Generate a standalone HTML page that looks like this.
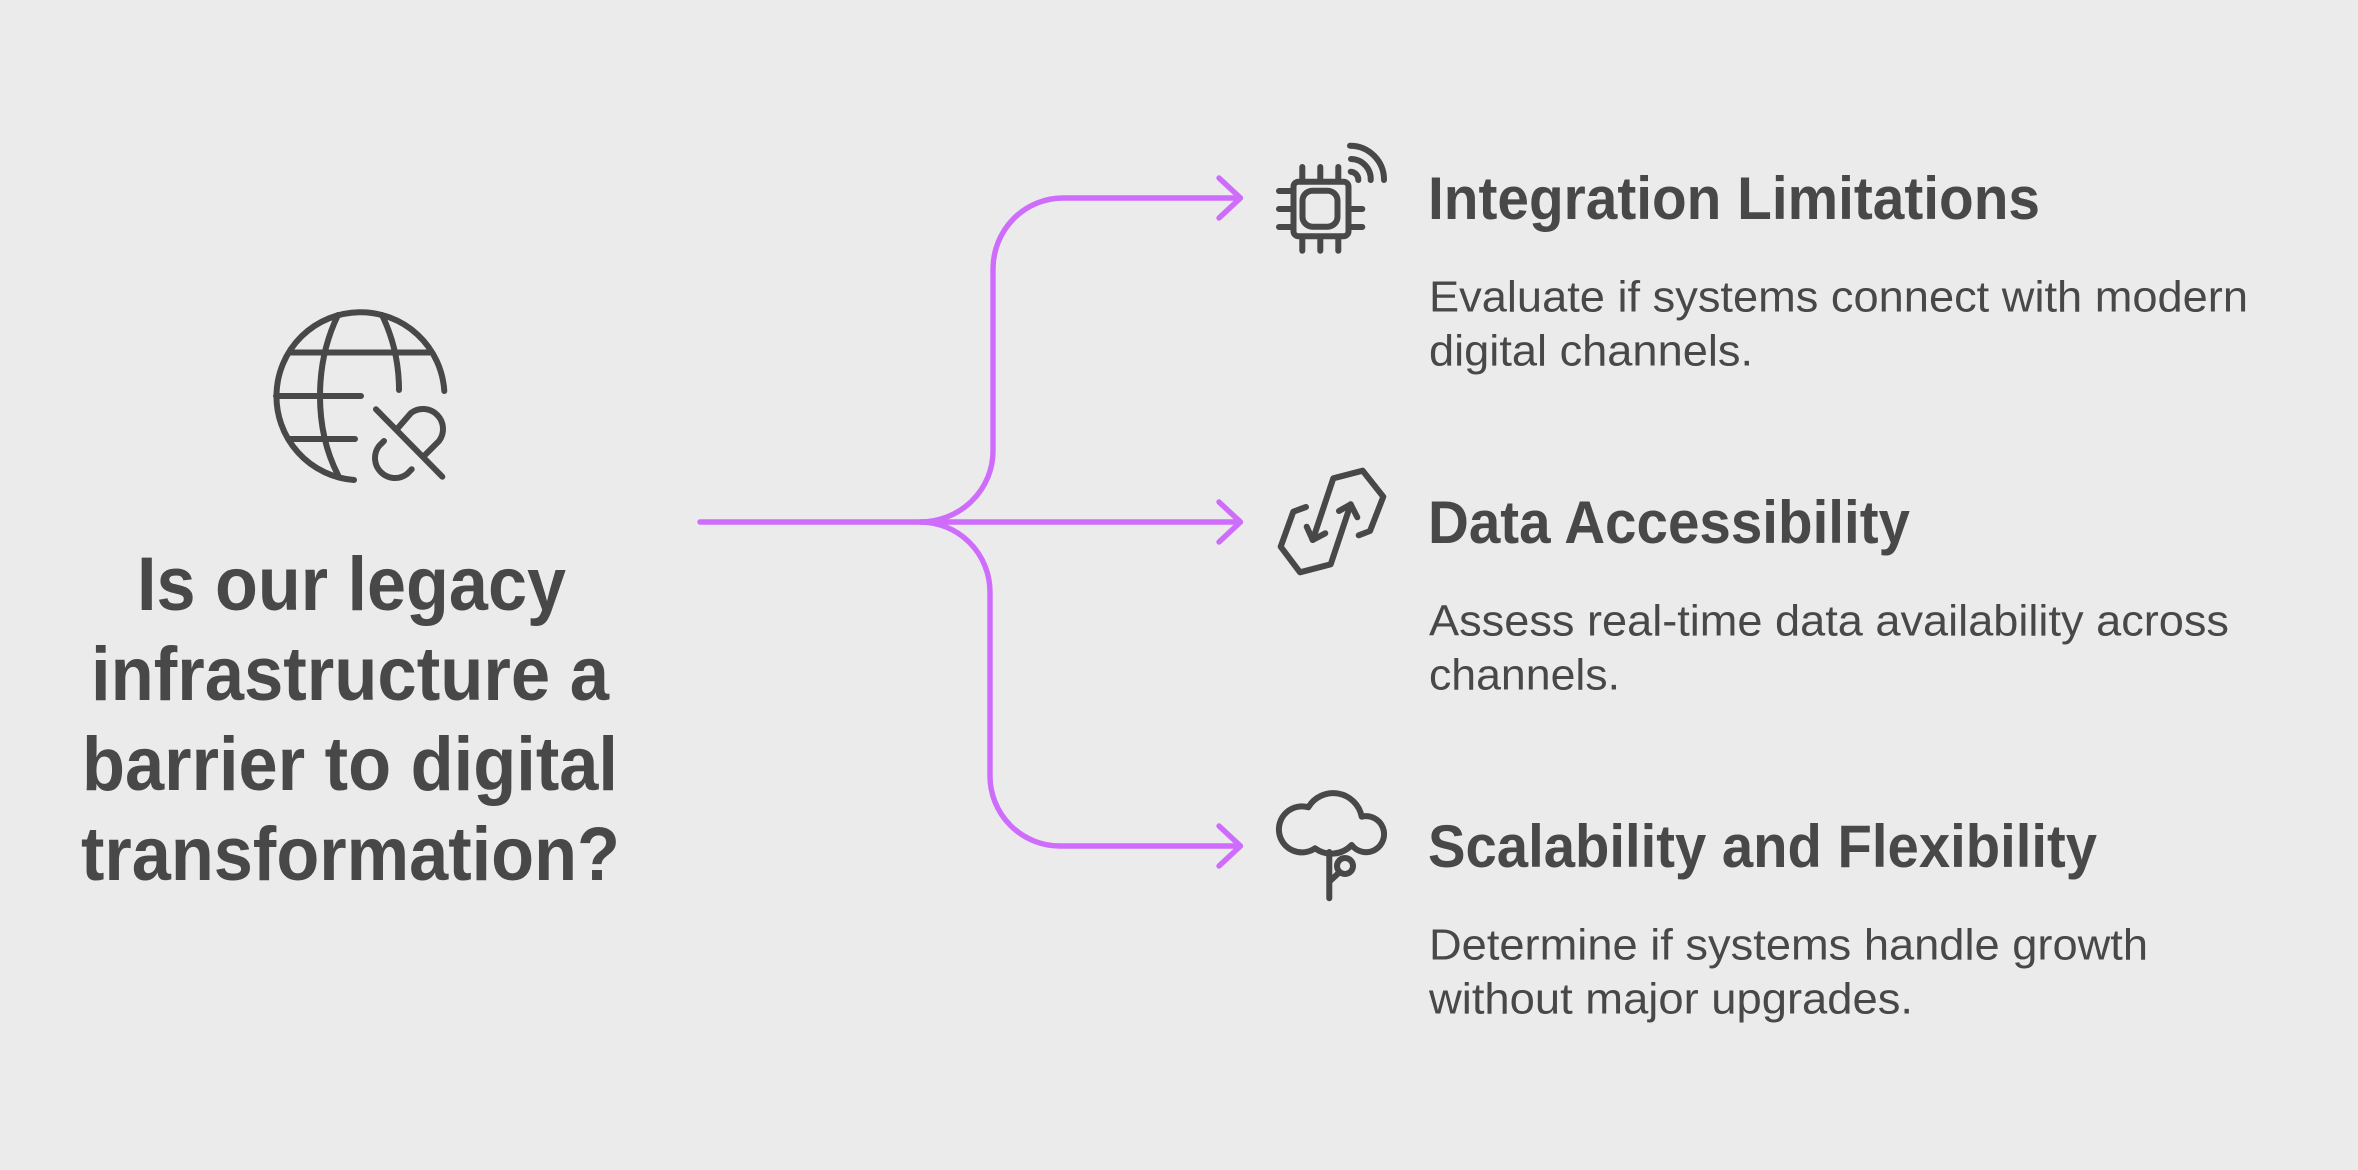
<!DOCTYPE html>
<html><head><meta charset="utf-8"><style>
html,body{margin:0;padding:0;background:#ebebeb;width:2358px;height:1170px;overflow:hidden}
svg{display:block}
text{font-family:"Liberation Sans",sans-serif;fill:#484848}
.t{font-size:76px;font-weight:700}
.h{font-size:60px;font-weight:700}
.d{font-size:44px;font-weight:400}
.i{fill:none;stroke:#484848;stroke-width:6;stroke-linecap:round;stroke-linejoin:round}
.c{fill:none;stroke:#ce6cfb;stroke-width:5.4;stroke-linecap:round;stroke-linejoin:round}
</style></head><body>
<svg width="2358" height="1170" viewBox="0 0 2358 1170" xmlns="http://www.w3.org/2000/svg">
<rect width="2358" height="1170" fill="#ebebeb"/>
<!-- connectors -->
<path class="c" d="M700 522H1238"/>
<path class="c" d="M920 522A73 71 0 0 0 993 451V269A70 71 0 0 1 1063 198H1238"/>
<path class="c" d="M920 522A70 70 0 0 1 990 592V776A70 70 0 0 0 1060 846H1238"/>
<path class="c" d="M1219 178L1240.5 198L1219 218"/>
<path class="c" d="M1219 502L1240.5 522L1219 542"/>
<path class="c" d="M1219 826L1240.5 846L1219 866"/>
<!-- globe -->
<g class="i">
<path d="M444.3 391A84 84 0 1 0 354 480"/>
<path d="M338 315Q320 352 320 396Q320 440 338 475"/>
<path d="M382 315Q399 350 399 390"/>
<path d="M290 352.5H430M276 396H361M290 439H355"/>
<path d="M376 409.3L442.3 476.7"/>
<path d="M397.5 428.5L411 413A20 20 0 0 1 439 441L425 455"/>
<path d="M384 441L379 446A20 20 0 0 0 407 474L411.7 469.3"/>
</g>
<!-- chip -->
<g class="i">
<rect x="1293.5" y="181.7" width="55" height="54.5" rx="5"/>
<rect x="1302.5" y="190.7" width="35" height="36" rx="10"/>
<path d="M1302.3 167V181M1320.3 167V181M1338.3 167V181M1302.3 237V250.7M1320.3 237V250.7M1338.3 237V250.7"/>
<path d="M1279 191H1293M1279 209H1293M1279 227H1293M1349 209H1362.3M1349 227H1362.3"/>
<path d="M1350 145.7A34 34 0 0 1 1384 180M1351 159A20 20 0 0 1 1370.7 180M1350.7 171.7A8 8 0 0 1 1358.3 180"/>
</g>
<!-- data -->
<g class="i">
<path d="M1306 507L1293.3 511.7L1280.7 546.7L1300 572.3L1330.7 564.3L1350.7 504.3"/>
<path d="M1339 511L1350.7 504.3L1357.3 517.3"/>
<path d="M1358.7 535.3L1370 531L1383.3 496.7L1362.7 470.7L1333.3 478.3L1312.7 540"/>
<path d="M1306.7 526.7L1312.7 540L1325.3 533.3"/>
</g>
<!-- cloud -->
<g class="i">
<path d="M1308.3 807.3A29 29 0 0 1 1361.7 816.7A18 18 0 1 1 1351.7 845A28 28 0 0 1 1315 848.3A23 23 0 1 1 1308.3 807.3Z"/>
<path d="M1329.3 852V898.3M1329.3 881.7L1338.3 873.3"/>
<circle cx="1345" cy="866" r="8"/>
</g>
<!-- title -->
<text class="t" x="137" y="610" textLength="429" lengthAdjust="spacingAndGlyphs">Is our legacy</text>
<text class="t" x="91" y="700" textLength="518" lengthAdjust="spacingAndGlyphs">infrastructure a</text>
<text class="t" x="82" y="790" textLength="536" lengthAdjust="spacingAndGlyphs">barrier to digital</text>
<text class="t" x="81" y="880" textLength="539" lengthAdjust="spacingAndGlyphs">transformation?</text>
<!-- row 1 -->
<text class="h" x="1428" y="219" textLength="612" lengthAdjust="spacingAndGlyphs">Integration Limitations</text>
<text class="d" x="1429" y="311.5" textLength="819" lengthAdjust="spacingAndGlyphs">Evaluate if systems connect with modern</text>
<text class="d" x="1429" y="365.5" textLength="324" lengthAdjust="spacingAndGlyphs">digital channels.</text>
<!-- row 2 -->
<text class="h" x="1428" y="543" textLength="482" lengthAdjust="spacingAndGlyphs">Data Accessibility</text>
<text class="d" x="1429" y="635.5" textLength="800" lengthAdjust="spacingAndGlyphs">Assess real-time data availability across</text>
<text class="d" x="1429" y="689.5" textLength="191" lengthAdjust="spacingAndGlyphs">channels.</text>
<!-- row 3 -->
<text class="h" x="1428" y="867" textLength="669" lengthAdjust="spacingAndGlyphs">Scalability and Flexibility</text>
<text class="d" x="1429" y="959.5" textLength="719" lengthAdjust="spacingAndGlyphs">Determine if systems handle growth</text>
<text class="d" x="1429" y="1013.5" textLength="484" lengthAdjust="spacingAndGlyphs">without major upgrades.</text>
</svg>
</body></html>
